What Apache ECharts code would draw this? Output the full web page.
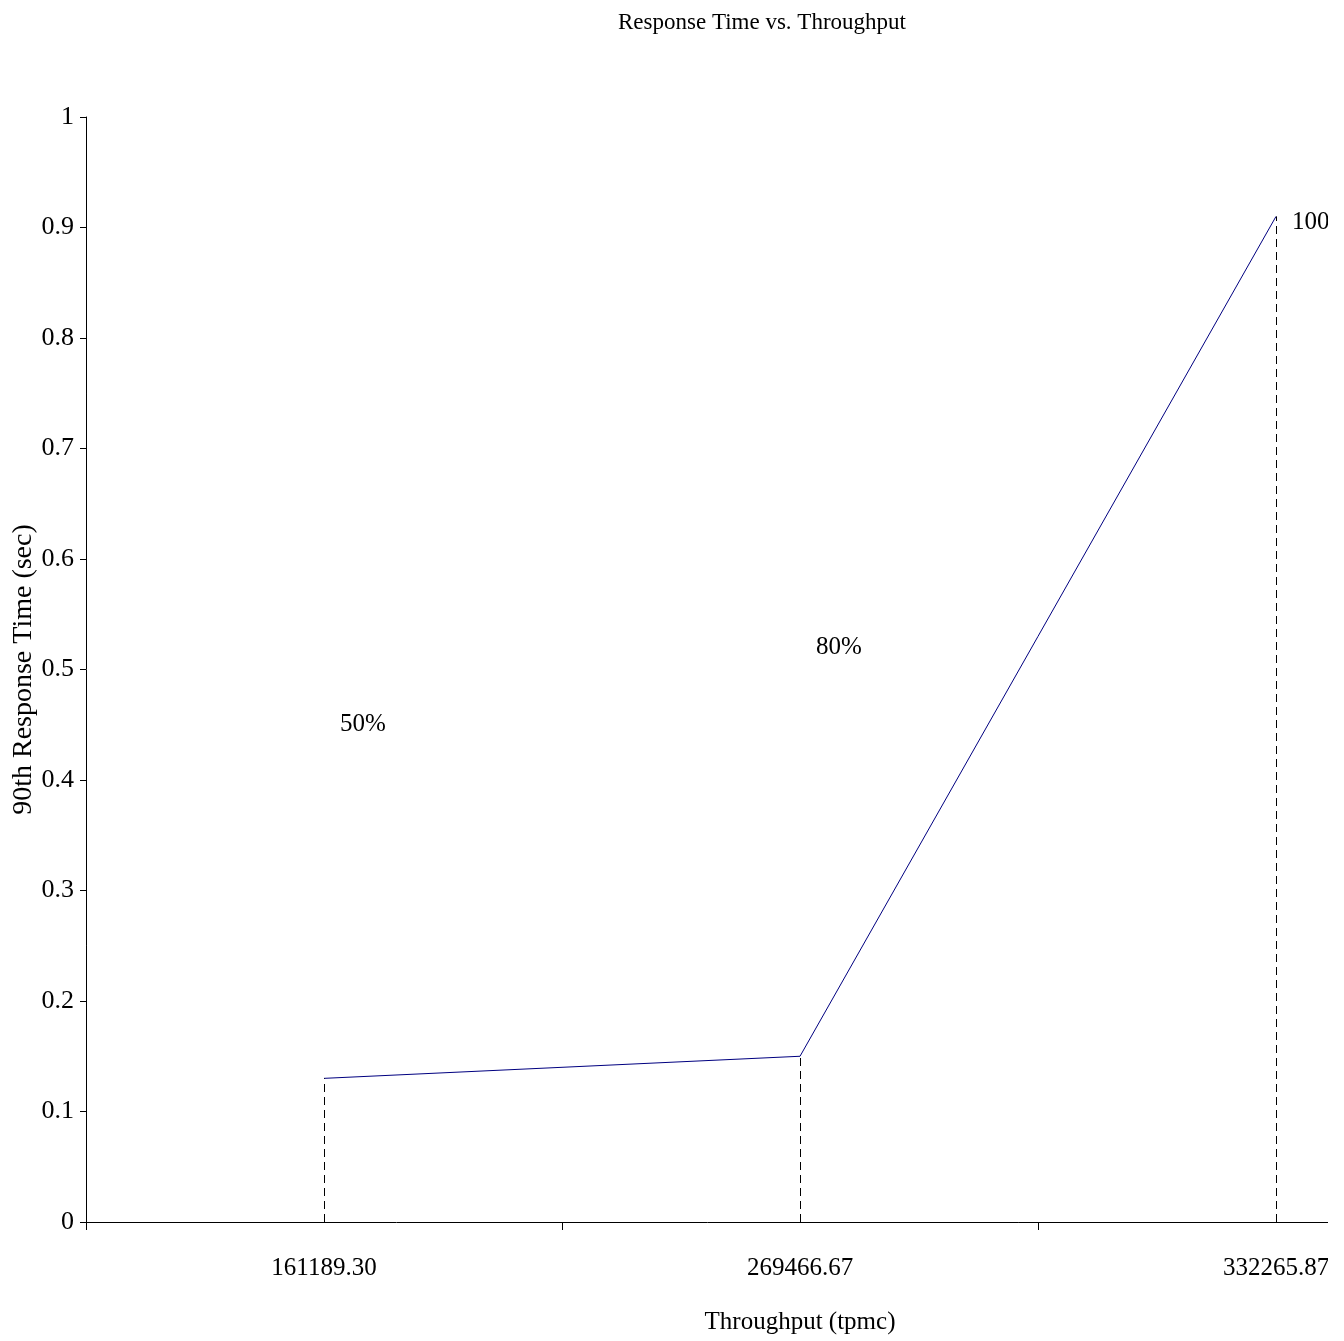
<!DOCTYPE html>
<html>
<head>
<meta charset="utf-8">
<script src="https://cdn.jsdelivr.net/npm/echarts@6/dist/echarts.min.js"></script>
<style>
html,body{margin:0;padding:0;background:#fff;}
#c{width:1328px;height:1341px;}
</style>
</head>
<body>
<div id="c"></div>
<script>
// Data
const categories = ['161189.30', '269466.67', '332265.87'];
const responseTimes = [0.13, 0.15, 0.91];
const loadLabels = ['50%', '80%', '100%'];
const loadLabelValues = [0.45, 0.52, 0.905];
const yTicks = [0, 0.1, 0.2, 0.3, 0.4, 0.5, 0.6, 0.7, 0.8, 0.9, 1];

const FONT = '"Liberation Serif", "Times New Roman", serif';
const chart = echarts.init(document.getElementById('c'), null, {renderer: 'canvas'});

const dropLines = responseTimes.map((v, i) => [
  {coord: [i, 0]},
  {coord: [i, v]}
]);

chart.setOption({
  animation: false,
  backgroundColor: '#ffffff',
  title: {
    text: 'Response Time vs. Throughput',
    left: 757,
    textAlign: 'center',
    top: 6,
    textStyle: {fontFamily: FONT, fontSize: 23, fontWeight: 'normal', color: '#000'}
  },
  grid: {left: 86, top: 117, bottom: 119, width: 1428, containLabel: false, outerBoundsMode: 'none'},
  xAxis: {
    type: 'category',
    data: categories,
    boundaryGap: true,
    name: 'Throughput (tpmc)',
    nameLocation: 'middle',
    nameGap: 88,
    nameMoveOverlap: false,
    nameTextStyle: {fontFamily: FONT, fontSize: 25, color: '#000'},
    axisLine: {lineStyle: {color: '#000', width: 1}},
    axisTick: {show: true, length: 8, lineStyle: {color: '#000'}},
    axisLabel: {fontFamily: FONT, fontSize: 25, color: '#000', margin: 34},
    splitLine: {show: false}
  },
  yAxis: {
    type: 'value',
    min: 0,
    max: 1,
    interval: 0.1,
    name: '90th Response Time (sec)',
    nameLocation: 'middle',
    nameGap: 48,
    nameMoveOverlap: false,
    nameRotate: 90,
    nameTextStyle: {fontFamily: FONT, fontSize: 28, color: '#000'},
    axisLine: {show: true, lineStyle: {color: '#000', width: 1}},
    axisTick: {show: true, length: 6, lineStyle: {color: '#000'}},
    axisLabel: {
      fontFamily: FONT, fontSize: 26, color: '#000', margin: 12,
      formatter: v => {
        const t = yTicks.find(x => Math.abs(x - v) < 1e-9);
        return String(t !== undefined ? t : Math.round(v * 10) / 10);
      }
    },
    splitLine: {show: false}
  },
  series: [
    {
      type: 'line',
      data: responseTimes,
      symbol: 'none',
      lineStyle: {color: '#000080', width: 1},
      markLine: {
        silent: true,
        symbol: ['none', 'none'],
        label: {show: false},
        lineStyle: {color: '#000', type: [8, 5], width: 1},
        data: dropLines
      }
    },
    {
      type: 'scatter',
      data: loadLabelValues,
      symbolSize: 0,
      silent: true,
      itemStyle: {color: '#000', opacity: 1},
      label: {
        show: true,
        position: 'right',
        distance: 16,
        fontFamily: FONT,
        fontSize: 25,
        color: '#000',
        opacity: 1,
        textBorderWidth: 0,
        formatter: p => loadLabels[p.dataIndex]
      }
    }
  ]
});
</script>
</body>
</html>
